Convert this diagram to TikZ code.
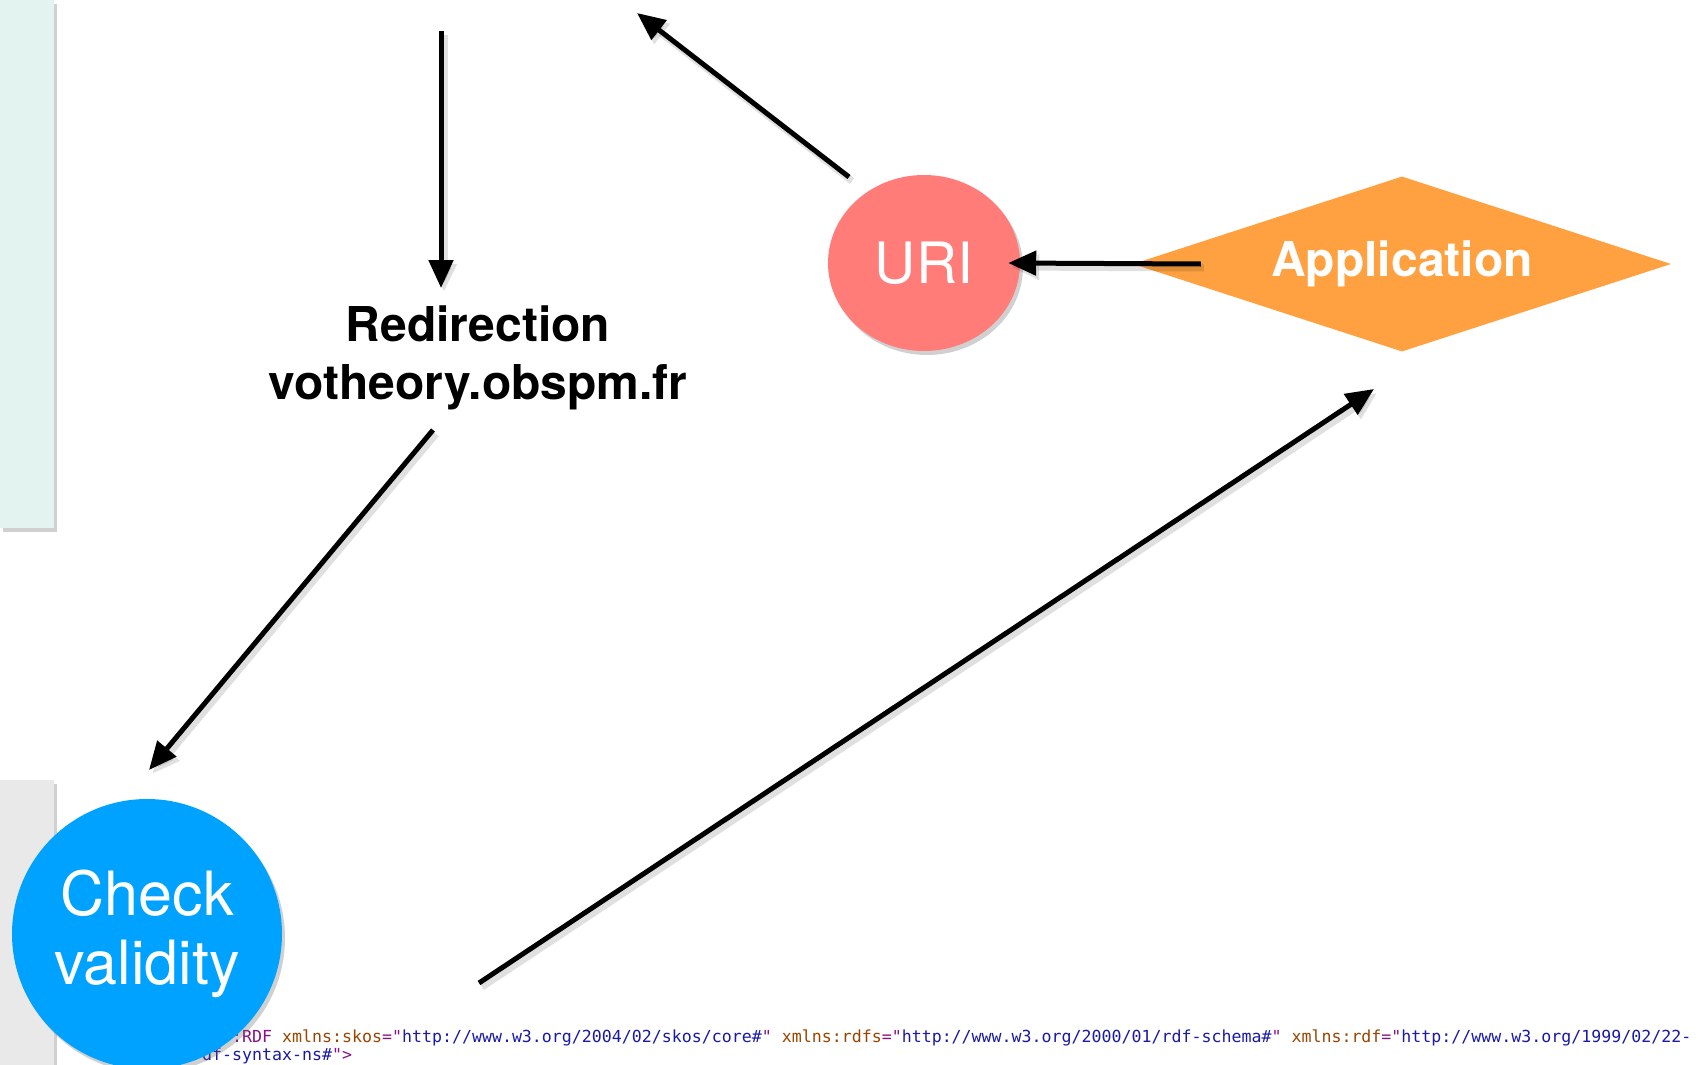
\documentclass[tikz,border=0pt]{standalone}
\usepackage{fontspec}
\setmainfont{TeX Gyre Heros}
\setmonofont{DejaVu Sans Mono}
\usetikzlibrary{shapes.geometric,shadows,arrows.meta}

\definecolor{urired}{RGB}{255,124,120}
\definecolor{apporange}{RGB}{255,161,64}
\definecolor{checkblue}{RGB}{0,162,255}
\definecolor{panelteal}{RGB}{227,243,240}
\definecolor{panelgray}{RGB}{233,233,233}
\definecolor{rdftag}{RGB}{136,18,128}
\definecolor{rdfattr}{RGB}{153,69,0}
\definecolor{rdfval}{RGB}{26,26,166}

\begin{document}
\begin{tikzpicture}
		[x=1pt, y=-1pt,
		shd/.style={drop shadow={shadow xshift=3pt, shadow yshift=-4pt, opacity=0.3, fill=black!60}},
		arr/.style={-{Triangle[length=28pt,width=24pt]}, line width=5pt, draw=black,
			preaction={draw=black, opacity=0.12, line width=7pt, transform canvas={xshift=3pt, yshift=-4pt}}},
		word/.style={font=\fontsize{48}{58}\selectfont\bfseries, align=center, inner sep=0},
		code/.style={font=\fontsize{16.6}{18}\ttfamily, anchor=base west, inner sep=0}]

		\useasboundingbox (0,0) rectangle (1708,1065);
		\fill[white] (0,0) rectangle (1708,1065);

		% side panels
		\fill[panelteal, shd] (0,0) rectangle (54,528);
		\fill[panelgray, shd] (0,780) rectangle (54,1065);

		% rdf code at the bottom
		\node[code] (rdf1) at (192,1042) {\textcolor{rdftag}{<rdf:RDF} \textcolor{rdfattr}{xmlns:skos}\textcolor{rdftag}{="}\textcolor{rdfval}{http://www.w3.org/2004/02/skos/core\#}\textcolor{rdftag}{"} \textcolor{rdfattr}{xmlns:rdfs}\textcolor{rdftag}{="}\textcolor{rdfval}{http://www.w3.org/2000/01/rdf-schema\#}\textcolor{rdftag}{"} \textcolor{rdfattr}{xmlns:rdf}\textcolor{rdftag}{="}\textcolor{rdfval}{http://www.w3.org/1999/02/22-}};
		\node[code] (rdf2) at (192,1060) {\textcolor{rdfval}{rdf-syntax-ns\#}\textcolor{rdftag}{">}};

		% nodes
		\node[word] (redir) at (478,358) {Redirection\\votheory.obspm.fr};

		\node[ellipse, fill=urired, minimum width=192pt, minimum height=176pt, inner sep=0,
			text=white, font=\fontsize{57}{60}\selectfont, shd] (uri) at (924,263) {URI};

		\node[diamond, aspect=3.07, fill=apporange, minimum width=538pt, minimum height=175pt, inner sep=0,
			text=white, font=\fontsize{48}{58}\selectfont\bfseries] (app) at (1402,264) {Application};

		\node[circle, fill=checkblue, minimum size=270pt, inner sep=0, align=center,
			text=white, font=\fontsize{61}{69}\selectfont, shd] (check) at (147,934) {Check\\validity};

		% free ends
		\coordinate (top1) at (441,31);
		\coordinate (top2) at (637,13);
		\coordinate (u1) at (849,177);
		\coordinate (r1) at (441,288);
		\coordinate (r2) at (433,430);
		\coordinate (c1) at (149,770);
		\coordinate (c2) at (479,983);
		\coordinate (a1) at (1374,389);

		% connectors
		\draw[arr] (top1) -- (r1);
		\draw[arr] (u1) -- (top2);
		\draw[arr] ([xshift=68pt]app.west) -- ([xshift=-12pt]uri.east);
		\draw[arr] (r2) -- (c1);
		\draw[arr] (c2) -- (a1);

\end{tikzpicture}
\end{document}
